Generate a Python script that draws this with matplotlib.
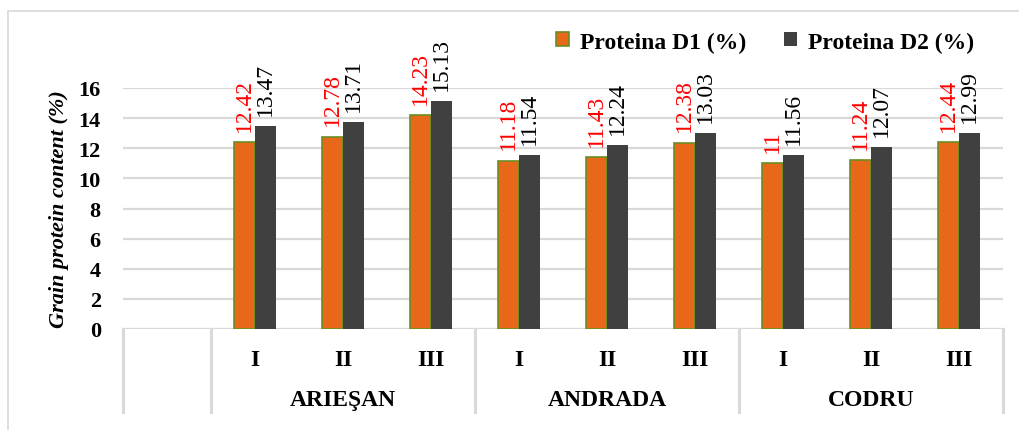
import matplotlib.pyplot as plt
from matplotlib.lines import Line2D
from matplotlib.patches import Rectangle
import numpy as np

# protein content per variety and treatment level
soiuri = ["ARIEŞAN", "ANDRADA", "CODRU"]
nivele = ["I", "II", "III"]
proteina_d1 = [12.42, 12.78, 14.23, 11.18, 11.43, 12.38, 11, 11.24, 12.44]
proteina_d2 = [13.47, 13.71, 15.13, 11.54, 12.24, 13.03, 11.56, 12.07, 12.99]
yticks = [0, 2, 4, 6, 8, 10, 12, 14, 16]

plt.rcParams['font.family'] = ['Liberation Serif', 'DejaVu Serif']

c_d1 = "#E8681A"
c_d1_edge = "#6B8E23"
c_d2 = "#404040"
c_grid = "#D9D9D9"

W, H = 1019, 431
fig = plt.figure(figsize=(W / 100, H / 100), dpi=100)
ax = fig.add_axes([123 / W, (H - 330) / H, 880 / W, 241 / H])

# first slot on the category axis is left empty
x = np.arange(1, 1 + len(proteina_d1))
w = 0.235

b1 = ax.bar(x - w / 2, proteina_d1, w, color=c_d1, edgecolor=c_d1_edge, linewidth=1.2, zorder=3)
b2 = ax.bar(x + w / 2, proteina_d2, w, color=c_d2, zorder=3)

for xi, v in zip(x - w / 2, proteina_d1):
    ax.annotate(f"{v:g}", (xi, v), xytext=(0, 8), textcoords="offset points",
                rotation=90, ha="center", va="bottom", color="red", fontsize=17,
                annotation_clip=False)
for xi, v in zip(x + w / 2, proteina_d2):
    ax.annotate(f"{v:g}", (xi, v), xytext=(0, 8), textcoords="offset points",
                rotation=90, ha="center", va="bottom", color="black", fontsize=17,
                annotation_clip=False)

ax.set_xlim(-0.5, 9.5)
ax.set_ylim(0, 16)
ax.set_yticks(yticks)
ax.set_yticklabels([str(t) for t in yticks], fontsize=16, fontweight="bold")
ax.tick_params(axis="y", length=0, pad=16)
ax.set_xticks([])
for s in ax.spines.values():
    s.set_visible(False)
ax.grid(axis="y", color=c_grid, linewidth=1.6, zorder=0)
ax.set_axisbelow(True)
ax.axhline(0, color=c_grid, linewidth=2.2, zorder=1)

ax.set_ylabel("Grain protein content (%)", fontsize=16, fontweight="bold",
              fontstyle="italic", labelpad=7)

# two-level category axis drawn below the plot
trans = ax.get_xaxis_transform()
lo = -83 / 241
for xs in [-0.5, 0.5, 3.5, 6.5, 9.5]:
    ax.add_line(Line2D([xs, xs], [0, lo], transform=trans, color=c_grid,
                       linewidth=2.2, clip_on=False))
for i, xi in enumerate(x):
    ax.text(xi, -31 / 241, nivele[i % 3], transform=trans, ha="center", va="center",
            fontsize=17, fontweight="bold")
for g, nume in enumerate(soiuri):
    ax.text(2 + 3 * g, -71 / 241, nume, transform=trans, ha="center", va="center",
            fontsize=17, fontweight="bold")

# chart frame
fig.patches.append(Rectangle((8 / W, -0.1), 1.1, (H - 12) / H + 0.1, transform=fig.transFigure,
                             fill=False, edgecolor=c_grid, linewidth=1.2))

handles = [Rectangle((0, 0), 1, 1, facecolor=c_d1, edgecolor=c_d1_edge, linewidth=1.2),
           Rectangle((0, 0), 1, 1, facecolor=c_d2)]
fig.legend(handles, ["Proteina D1 (%)", "Proteina D2 (%)"], loc="center left",
           bbox_to_anchor=(535 / W, (H - 43) / H), ncol=2, frameon=False,
           prop={"size": 17, "weight": "bold"}, handlelength=0.55, handleheight=0.55,
           handletextpad=0.45, columnspacing=1.6)

plt.savefig("out.png", dpi=100)
